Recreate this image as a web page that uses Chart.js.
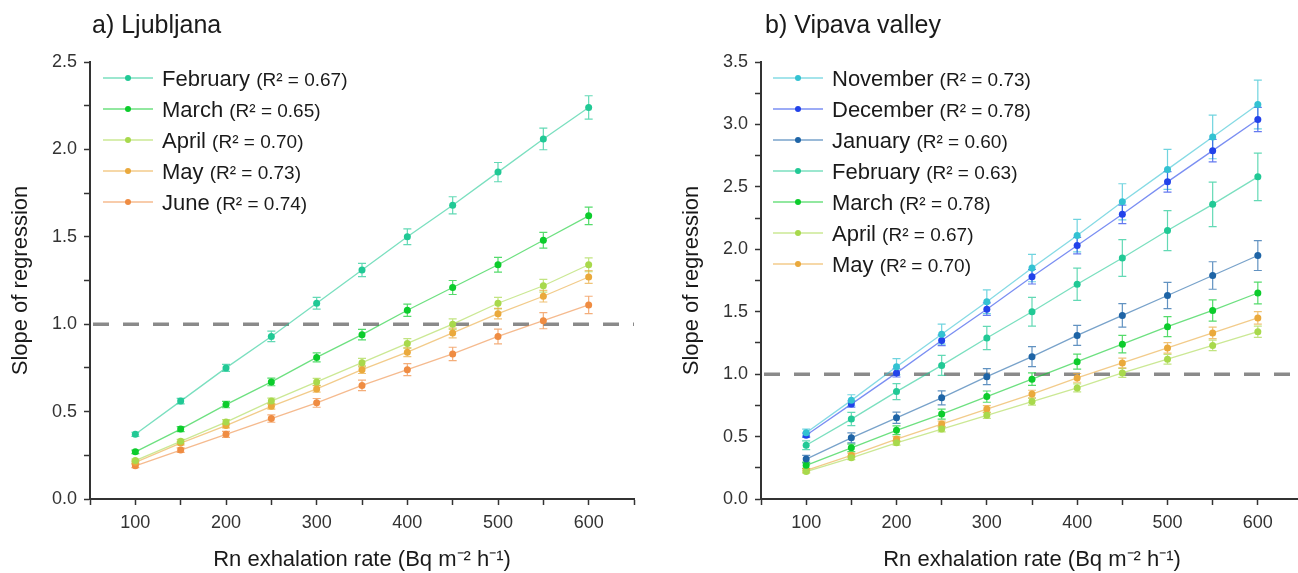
<!DOCTYPE html>
<html>
<head>
<meta charset="utf-8">
<title>Slope of regression vs Rn exhalation rate</title>
<script src="https://cdn.jsdelivr.net/npm/chart.js@4.4.1/dist/chart.umd.min.js"></script>
<style>
  html, body { margin: 0; padding: 0; background: #fff; overflow: hidden; }
  #wrap { position: relative; width: 1298px; height: 573px; overflow: hidden; }
  #ljCanvas { position: absolute; left: 0; top: 0; }
  #vpCanvas { position: absolute; left: 650px; top: 0; }
</style>
</head>
<body>
<div id="wrap">
  <canvas id="ljCanvas" width="650" height="573"></canvas>
  <canvas id="vpCanvas" width="700" height="573"></canvas>
</div>
<script>
const rates = [100, 150, 200, 250, 300, 350, 400, 450, 500, 550, 600];

// a) Ljubljana
const ljMonths = ['February', 'March', 'April', 'May', 'June'];
const ljR2 = ['0.67', '0.65', '0.70', '0.73', '0.74'];
const ljFeb = [0.37, 0.56, 0.75, 0.93, 1.12, 1.31, 1.50, 1.68, 1.87, 2.06, 2.24];
const ljMar = [0.27, 0.40, 0.54, 0.67, 0.81, 0.94, 1.08, 1.21, 1.34, 1.48, 1.62];
const ljApr = [0.22, 0.33, 0.44, 0.56, 0.67, 0.78, 0.89, 1.00, 1.12, 1.22, 1.34];
const ljMay = [0.21, 0.32, 0.42, 0.53, 0.63, 0.74, 0.84, 0.95, 1.06, 1.16, 1.27];
const ljJun = [0.19, 0.28, 0.37, 0.46, 0.55, 0.65, 0.74, 0.83, 0.93, 1.02, 1.11];
const ljFebErr = [0.012, 0.016, 0.020, 0.030, 0.034, 0.038, 0.045, 0.049, 0.055, 0.062, 0.067];
const ljMarErr = [0.010, 0.014, 0.018, 0.022, 0.026, 0.030, 0.035, 0.040, 0.042, 0.045, 0.050];
const ljAprErr = [0.008, 0.011, 0.014, 0.017, 0.020, 0.024, 0.027, 0.030, 0.033, 0.037, 0.040];
const ljMayErr = [0.008, 0.010, 0.013, 0.016, 0.019, 0.022, 0.025, 0.028, 0.030, 0.033, 0.036];
const ljJunErr = [0.010, 0.013, 0.017, 0.021, 0.025, 0.030, 0.034, 0.038, 0.042, 0.046, 0.050];

// b) Vipava valley
const vpMonths = ['November', 'December', 'January', 'February', 'March', 'April', 'May'];
const vpR2 = ['0.73', '0.78', '0.60', '0.63', '0.78', '0.67', '0.70'];
const vpNov = [0.53, 0.79, 1.06, 1.32, 1.58, 1.85, 2.11, 2.38, 2.64, 2.90, 3.16];
const vpDec = [0.51, 0.76, 1.01, 1.27, 1.52, 1.78, 2.03, 2.28, 2.54, 2.79, 3.04];
const vpJan = [0.32, 0.49, 0.65, 0.81, 0.98, 1.14, 1.31, 1.47, 1.63, 1.79, 1.95];
const vpFeb = [0.43, 0.64, 0.86, 1.07, 1.29, 1.50, 1.72, 1.93, 2.15, 2.36, 2.58];
const vpMar = [0.27, 0.41, 0.55, 0.68, 0.82, 0.96, 1.10, 1.24, 1.38, 1.51, 1.65];
const vpApr = [0.22, 0.33, 0.45, 0.56, 0.67, 0.78, 0.89, 1.01, 1.12, 1.23, 1.34];
const vpMay = [0.23, 0.35, 0.48, 0.60, 0.72, 0.84, 0.97, 1.09, 1.21, 1.33, 1.45];
const vpNovErr = [0.030, 0.045, 0.065, 0.080, 0.095, 0.110, 0.130, 0.145, 0.160, 0.175, 0.195];
const vpDecErr = [0.017, 0.025, 0.033, 0.042, 0.050, 0.058, 0.066, 0.074, 0.082, 0.090, 0.097];
const vpJanErr = [0.030, 0.040, 0.045, 0.056, 0.064, 0.080, 0.080, 0.094, 0.105, 0.110, 0.120];
const vpFebErr = [0.035, 0.053, 0.064, 0.080, 0.093, 0.115, 0.129, 0.147, 0.160, 0.178, 0.190];
const vpMarErr = [0.025, 0.030, 0.035, 0.040, 0.045, 0.050, 0.060, 0.070, 0.080, 0.085, 0.087];
const vpAprErr = [0.012, 0.015, 0.018, 0.022, 0.025, 0.028, 0.032, 0.036, 0.039, 0.042, 0.045];
const vpMayErr = [0.014, 0.017, 0.020, 0.024, 0.028, 0.031, 0.035, 0.039, 0.042, 0.046, 0.050];

const monthColors = {
  November: '#33c2d2',
  December: '#2242ea',
  January: '#1e64a6',
  February: '#21c995',
  March: '#0ccc2c',
  April: '#a8d94c',
  May: '#eaa93c',
  June: '#ef8c42'
};

const FONT = '"Liberation Sans", Arial, sans-serif';
Chart.defaults.font.family = FONT;

function fade(hex, a) {
  const n = parseInt(hex.slice(1), 16);
  return `rgba(${n >> 16}, ${(n >> 8) & 255}, ${n & 255}, ${a})`;
}

function makeSets(months, values, errors, r2) {
  return months.map((m, i) => ({
    label: m,
    r2: r2[i],
    errors: errors[i],
    data: rates.map((x, j) => ({ x, y: values[i][j] })),
    borderColor: fade(monthColors[m], 0.6),
    borderWidth: 1.3,
    pointBackgroundColor: monthColors[m],
    pointBorderColor: monthColors[m],
    pointBorderWidth: 0,
    pointRadius: 3.5,
    tension: 0
  }));
}

// dashed 1:1 line, error bars, panel title and legend
const decor = {
  id: 'decor',
  beforeDatasetsDraw(chart, args, opts) {
    const { ctx, chartArea, scales: { x, y } } = chart;
    const y1 = y.getPixelForValue(1);
    ctx.save();
    ctx.strokeStyle = '#8a8a8a';
    ctx.lineWidth = 3.5;
    ctx.setLineDash([16, 14]);
    ctx.beginPath();
    ctx.moveTo(chartArea.left + 3, y1);
    ctx.lineTo(chartArea.right, y1);
    ctx.stroke();
    ctx.setLineDash([]);

    chart.data.datasets.forEach(ds => {
      ctx.strokeStyle = fade(monthColors[ds.label], 0.7);
      ctx.lineWidth = 1.2;
      ds.data.forEach((p, j) => {
        const px = x.getPixelForValue(p.x);
        const top = y.getPixelForValue(p.y + ds.errors[j]);
        const bot = y.getPixelForValue(p.y - ds.errors[j]);
        ctx.beginPath();
        ctx.moveTo(px, top); ctx.lineTo(px, bot);
        ctx.moveTo(px - 4, top); ctx.lineTo(px + 4, top);
        ctx.moveTo(px - 4, bot); ctx.lineTo(px + 4, bot);
        ctx.stroke();
      });
    });
    ctx.restore();
  },
  afterDraw(chart, args, opts) {
    const { ctx } = chart;
    ctx.save();
    ctx.fillStyle = '#1a1a1a';
    ctx.textBaseline = 'alphabetic';
    ctx.font = `25px ${FONT}`;
    ctx.fillText(opts.title, opts.titleX, 33);

    chart.data.datasets.forEach((ds, i) => {
      const rowY = 78 + i * 31;
      const lx = opts.legendX;
      ctx.strokeStyle = fade(monthColors[ds.label], 0.6);
      ctx.lineWidth = 1.3;
      ctx.beginPath();
      ctx.moveTo(lx, rowY);
      ctx.lineTo(lx + 50, rowY);
      ctx.stroke();
      ctx.fillStyle = monthColors[ds.label];
      ctx.beginPath();
      ctx.arc(lx + 25, rowY, 3, 0, Math.PI * 2);
      ctx.fill();

      ctx.fillStyle = '#1a1a1a';
      ctx.font = `22px ${FONT}`;
      ctx.fillText(ds.label, lx + 59, rowY + 8);
      const w = ctx.measureText(ds.label + ' ').width;
      ctx.font = `19px ${FONT}`;
      ctx.fillText(`(R\u00b2 = ${ds.r2})`, lx + 59 + w, rowY + 8);
    });
    ctx.restore();
  }
};

function buildChart(canvasId, datasets, yMax, cfg) {
  return new Chart(document.getElementById(canvasId), {
    type: 'line',
    data: { datasets },
    plugins: [decor],
    options: {
      responsive: false,
      animation: false,
      layout: { padding: { top: 62, left: 0, right: cfg.padRight, bottom: 0 } },
      plugins: {
        legend: { display: false },
        tooltip: { enabled: false },
        decor: { title: cfg.title, titleX: cfg.titleX, legendX: cfg.legendX }
      },
      scales: {
        x: {
          type: 'linear',
          min: 50,
          max: 650,
          afterFit: s => { s.height = 74; },
          ticks: {
            stepSize: 50,
            autoSkip: false,
            maxRotation: 0,
            padding: 7,
            color: '#333',
            font: { size: 18 },
            callback: v => (v % 100 === 0 && v >= 100 && v <= 600) ? String(v) : ''
          },
          grid: { drawOnChartArea: false, tickLength: 6, tickColor: '#333', tickWidth: 1.5 },
          border: { color: '#333', width: 2 },
          title: {
            display: true,
            text: 'Rn exhalation rate (Bq m\u207b\u00b2 h\u207b\u00b9)',
            color: '#1a1a1a',
            font: { size: 22 },
            padding: { top: 0, bottom: 0 }
          }
        },
        y: {
          min: 0,
          max: yMax,
          afterFit: s => { s.width = cfg.yWidth; },
          ticks: {
            stepSize: 0.25,
            autoSkip: false,
            padding: 7,
            color: '#333',
            font: { size: 18 },
            callback: v => Math.abs(v * 2 - Math.round(v * 2)) < 1e-6 ? v.toFixed(1) : ''
          },
          grid: { drawOnChartArea: false, tickLength: 6, tickColor: '#333', tickWidth: 1.5 },
          border: { color: '#333', width: 2 },
          title: {
            display: true,
            text: 'Slope of regression',
            color: '#1a1a1a',
            font: { size: 22 },
            padding: { top: cfg.yTitlePad, bottom: 0 }
          }
        }
      }
    }
  });
}

buildChart('ljCanvas',
  makeSets(ljMonths, [ljFeb, ljMar, ljApr, ljMay, ljJun],
    [ljFebErr, ljMarErr, ljAprErr, ljMayErr, ljJunErr], ljR2),
  2.5,
  { title: 'a) Ljubljana', titleX: 92, legendX: 103, padRight: 16, yWidth: 90, yTitlePad: 8 });

buildChart('vpCanvas',
  makeSets(vpMonths, [vpNov, vpDec, vpJan, vpFeb, vpMar, vpApr, vpMay],
    [vpNovErr, vpDecErr, vpJanErr, vpFebErr, vpMarErr, vpAprErr, vpMayErr], vpR2),
  3.5,
  { title: 'b) Vipava valley', titleX: 115, legendX: 123, padRight: 47, yWidth: 111, yTitlePad: 29 });
</script>
</body>
</html>
